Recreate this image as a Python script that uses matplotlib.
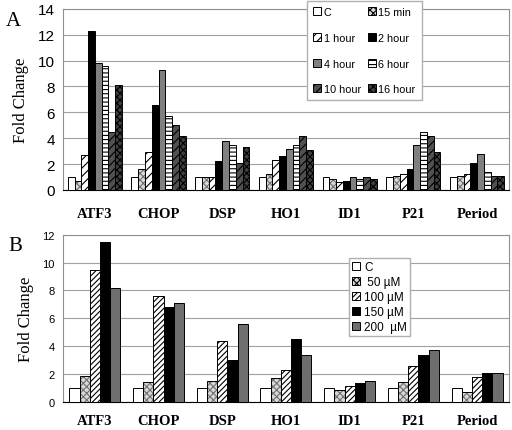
import numpy as np
import matplotlib
matplotlib.use("Agg")
import matplotlib.pyplot as plt

plt.rcParams['hatch.linewidth'] = 0.8

genes = ["ATF3", "CHOP", "DSP", "HO1", "ID1", "P21", "Period"]

# panel A: time course
time_labels = ["C", "15 min", "1 hour", "2 hour", "4 hour", "6 hour", "10 hour", "16 hour"]
c_a = [1.0, 1.0, 1.0, 1.0, 1.0, 1.0, 1.0]
min15 = [0.7, 1.6, 1.0, 1.2, 0.85, 1.1, 1.1]
hour1 = [2.7, 2.9, 1.0, 2.3, 0.6, 1.2, 1.2]
hour2 = [12.3, 6.6, 2.2, 2.6, 0.7, 1.6, 2.1]
hour4 = [9.8, 9.3, 3.8, 3.2, 1.0, 3.5, 2.8]
hour6 = [9.6, 5.7, 3.5, 3.5, 0.85, 4.5, 1.4]
hour10 = [4.5, 5.0, 2.1, 4.2, 1.0, 4.2, 1.1]
hour16 = [8.1, 4.2, 3.3, 3.1, 0.85, 2.9, 1.1]
series_a = [c_a, min15, hour1, hour2, hour4, hour6, hour10, hour16]

# panel B: dose response
dose_labels = ["C", " 50 µM", "100 µM", "150 µM", "200  µM"]
c_b = [1.0, 1.0, 1.0, 1.0, 1.0, 1.0, 1.0]
um50 = [1.9, 1.4, 1.5, 1.75, 0.85, 1.4, 0.75]
um100 = [9.5, 7.6, 4.4, 2.3, 1.15, 2.55, 1.8]
um150 = [11.5, 6.8, 3.0, 4.55, 1.35, 3.35, 2.05]
um200 = [8.2, 7.1, 5.6, 3.35, 1.5, 3.7, 2.1]
series_b = [c_b, um50, um100, um150, um200]

# (face, hatch, hatch colour)
styles_a = [
    ("white", "", "black"),
    ("#d8d8d8", "xxxxx", "#707070"),
    ("white", "////", "black"),
    ("black", "", "black"),
    ("#808080", "", "black"),
    ("white", "----", "black"),
    ("#505050", "////", "black"),
    ("#404040", "xxxxx", "black"),
]
styles_b = [
    ("white", "", "black"),
    ("#d8d8d8", "xxxxx", "#707070"),
    ("white", "//////", "black"),
    ("black", "", "black"),
    ("#6e6e6e", "", "black"),
]

fig = plt.figure(figsize=(5.12, 4.31), dpi=100)
ax_a = fig.add_axes([0.123, 0.557, 0.871, 0.420])
ax_b = fig.add_axes([0.123, 0.065, 0.871, 0.388])


def draw_panel(ax, series, labels, styles, group_w, ymax, tick_size, xpad):
    x = np.arange(len(genes))
    n = len(series)
    w = group_w / n
    handles = []
    for i, (vals, (fc, hatch, hc)) in enumerate(zip(series, styles)):
        pos = x - group_w / 2 + w * (i + 0.5)
        # fill + hatch first, then a black outline on top
        ax.bar(pos, vals, w, facecolor=fc, hatch=hatch, edgecolor=hc,
               linewidth=0, zorder=3)
        ax.bar(pos, vals, w, facecolor="none", edgecolor="black", linewidth=0.7, zorder=4)
        h = plt.Rectangle((0, 0), 1, 1, facecolor=fc, hatch=hatch, edgecolor="black",
                          linewidth=0.7)
        handles.append(h)
    ax.set_xlim(-0.5, len(genes) - 0.5)
    ax.set_ylim(0, ymax)
    ax.set_yticks(np.arange(0, ymax + 1, 2))
    ax.yaxis.grid(True, color="#a0a0a0", linewidth=0.8, zorder=0)
    ax.set_xticks(x)
    ax.set_xticklabels(genes, family="Liberation Serif", fontweight="bold", fontsize=10.5)
    ax.tick_params(axis="x", length=0, pad=xpad)
    ax.tick_params(axis="y", length=0, labelsize=tick_size, pad=6)
    for lab in ax.get_yticklabels():
        lab.set_family("Liberation Sans")
    for side in ["top", "right", "left"]:
        ax.spines[side].set_color("#909090")
    ax.spines["bottom"].set_color("black")
    ax.set_ylabel("Fold Change", family="Liberation Serif", fontsize=12, labelpad=6)
    return handles


hs_a = draw_panel(ax_a, series_a, time_labels, styles_a, 0.85, 14, 11, 12)
hs_b = draw_panel(ax_b, series_b, dose_labels, styles_b, 0.80, 12, 8, 9)

# legend A is read row by row: reorder for matplotlib's column filling
order = [0, 2, 4, 6, 1, 3, 5, 7]
leg_a = ax_a.legend([hs_a[i] for i in order], [time_labels[i] for i in order], ncol=2,
                    loc="upper left", bbox_to_anchor=(0.600, 0.995),
                    bbox_transform=fig.transFigure,
                    prop={"family": "Liberation Sans", "size": 7.8},
                    handlelength=0.75, handleheight=0.75, handletextpad=0.25, columnspacing=0.6,
                    labelspacing=1.45, borderpad=0.55, borderaxespad=0, fancybox=False,
                    framealpha=1, edgecolor="#b0b0b0")
leg_a.set_zorder(5)
leg_b = ax_b.legend(hs_b, dose_labels, loc="upper left", bbox_to_anchor=(0.681, 0.400),
                    bbox_transform=fig.transFigure,
                    prop={"family": "Liberation Sans", "size": 8.5},
                    handlelength=0.7, handleheight=0.7, handletextpad=0.3,
                    labelspacing=0.25, borderpad=0.3, borderaxespad=0, fancybox=False,
                    framealpha=1, edgecolor="#b0b0b0")
leg_b.set_zorder(5)

fig.text(0.012, 0.972, "A", family="Liberation Serif", fontsize=15, va="top")
fig.text(0.016, 0.45, "B", family="Liberation Serif", fontsize=15, va="top")

fig.savefig("out.png", dpi=100)
